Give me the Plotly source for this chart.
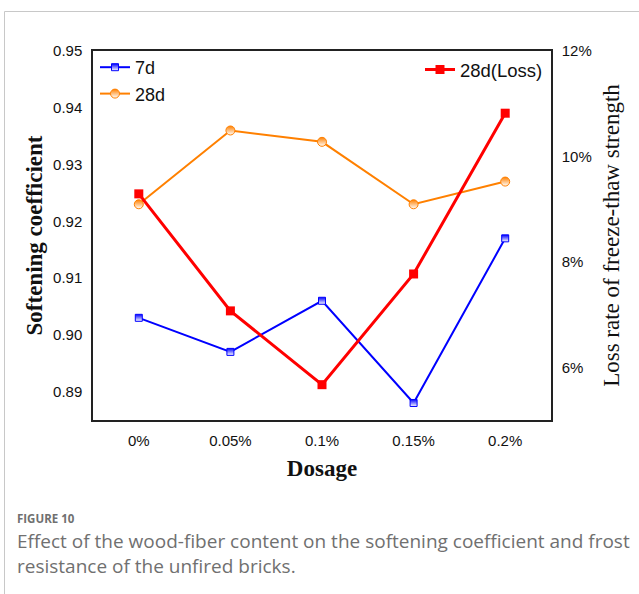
import plotly.graph_objects as go

dosage = ["0%", "0.05%", "0.1%", "0.15%", "0.2%"]
soft_7d = [0.903, 0.897, 0.906, 0.888, 0.917]
soft_28d = [0.923, 0.936, 0.934, 0.923, 0.927]
loss_28d = [9.29, 7.07, 5.67, 7.77, 10.82]

left_ticks = [0.89, 0.90, 0.91, 0.92, 0.93, 0.94, 0.95]
right_ticks = [6, 8, 10, 12]
right_tick_text = ["6%", "8%", "10%", "12%"]

W, H = 639, 594
L, R, T, B = 93, 551, 51, 420

def px(x):
    return (x - L) / (R - L)

def py(y):
    return (B - y) / (B - T)

fig = go.Figure()
fig.add_trace(go.Scatter(
    x=dosage, y=soft_7d, name="7d", mode="lines+markers",
    line=dict(color="#0000FF", width=2),
    marker=dict(symbol="square", size=7, color="#0000FF",
                gradient=dict(type="vertical", color="white"),
                line=dict(color="#0000FF", width=1)),
    legend="legend"))
fig.add_trace(go.Scatter(
    x=dosage, y=soft_28d, name="28d", mode="lines+markers",
    line=dict(color="#FF8000", width=2),
    marker=dict(symbol="circle", size=9, color="#FF8000",
                gradient=dict(type="vertical", color="white"),
                line=dict(color="#FF8000", width=1)),
    legend="legend"))
fig.add_trace(go.Scatter(
    x=dosage, y=loss_28d, name="28d(Loss)", mode="lines+markers",
    line=dict(color="#FF0000", width=3),
    marker=dict(symbol="square", size=9, color="#FF0000"),
    yaxis="y2", legend="legend2"))

tickfont = dict(family="Liberation Sans, Arial", size=15, color="#111")
title_font = dict(family="Liberation Serif, Times New Roman", size=23, color="#111")

fig.update_layout(
    width=W, height=H,
    margin=dict(l=L, r=W - R, t=T, b=H - B),
    paper_bgcolor="white", plot_bgcolor="white",
    showlegend=True,
    xaxis=dict(type="category", range=[-0.5, 4.5], showgrid=False,
               showline=True, linecolor="#222", linewidth=1.5, mirror=True,
               ticks="", tickfont=tickfont, ticklabelstandoff=6,
               title=dict(text="<b>Dosage</b>", standoff=12, font=title_font)),
    yaxis=dict(range=[0.885, 0.95], tickvals=left_ticks, tickformat=".2f",
               showgrid=False, zeroline=False,
               showline=True, linecolor="#222", linewidth=1.5,
               ticks="", tickfont=tickfont, ticklabelstandoff=6,
               title=dict(text="<b>Softening coefficient</b>", standoff=4, font=title_font)),
    yaxis2=dict(range=[5, 12], tickvals=right_ticks, ticktext=right_tick_text,
                overlaying="y", side="right", showgrid=False, zeroline=False,
                showline=True, linecolor="#222", linewidth=1.5,
                ticks="", tickfont=tickfont, ticklabelstandoff=6,
                title=dict(text="Loss rate of freeze-thaw strength", standoff=12,
                           font=dict(family="Liberation Serif, Times New Roman", size=23, color="#111"))),
    legend=dict(x=px(95), y=py(49), xanchor="left", yanchor="top",
                bgcolor="rgba(0,0,0,0)", tracegroupgap=0,
                font=dict(family="Liberation Sans, Arial", size=18, color="#111")),
    legend2=dict(x=px(548), y=py(51), xanchor="right", yanchor="top",
                 bgcolor="rgba(0,0,0,0)",
                 font=dict(family="Liberation Sans, Arial", size=18.5, color="#111")),
)

# page frame lines
fig.add_shape(type="line", xref="paper", yref="paper",
              x0=px(4.5), x1=px(639), y0=py(11.5), y1=py(11.5),
              line=dict(color="#c8c8c8", width=1))
fig.add_shape(type="line", xref="paper", yref="paper",
              x0=px(4.5), x1=px(4.5), y0=py(11.5), y1=py(594),
              line=dict(color="#c8c8c8", width=1))

cap_font = "Open Sans, Noto Sans, sans-serif"
fig.add_annotation(xref="paper", yref="paper", x=px(15), y=py(518),
                   xanchor="left", yanchor="middle", showarrow=False,
                   text="<b>FIGURE 10</b>",
                   font=dict(family=cap_font, size=11.5, color="#707070"))
fig.add_annotation(xref="paper", yref="paper", x=px(15), y=py(553),
                   xanchor="left", yanchor="middle", showarrow=False, align="left",
                   text="Effect of the wood-fiber content on the softening coefficient and frost"
                        "<br>resistance of the unfired bricks.",
                   font=dict(family=cap_font, size=19, color="#707070"))

fig.write_html("out.html")
